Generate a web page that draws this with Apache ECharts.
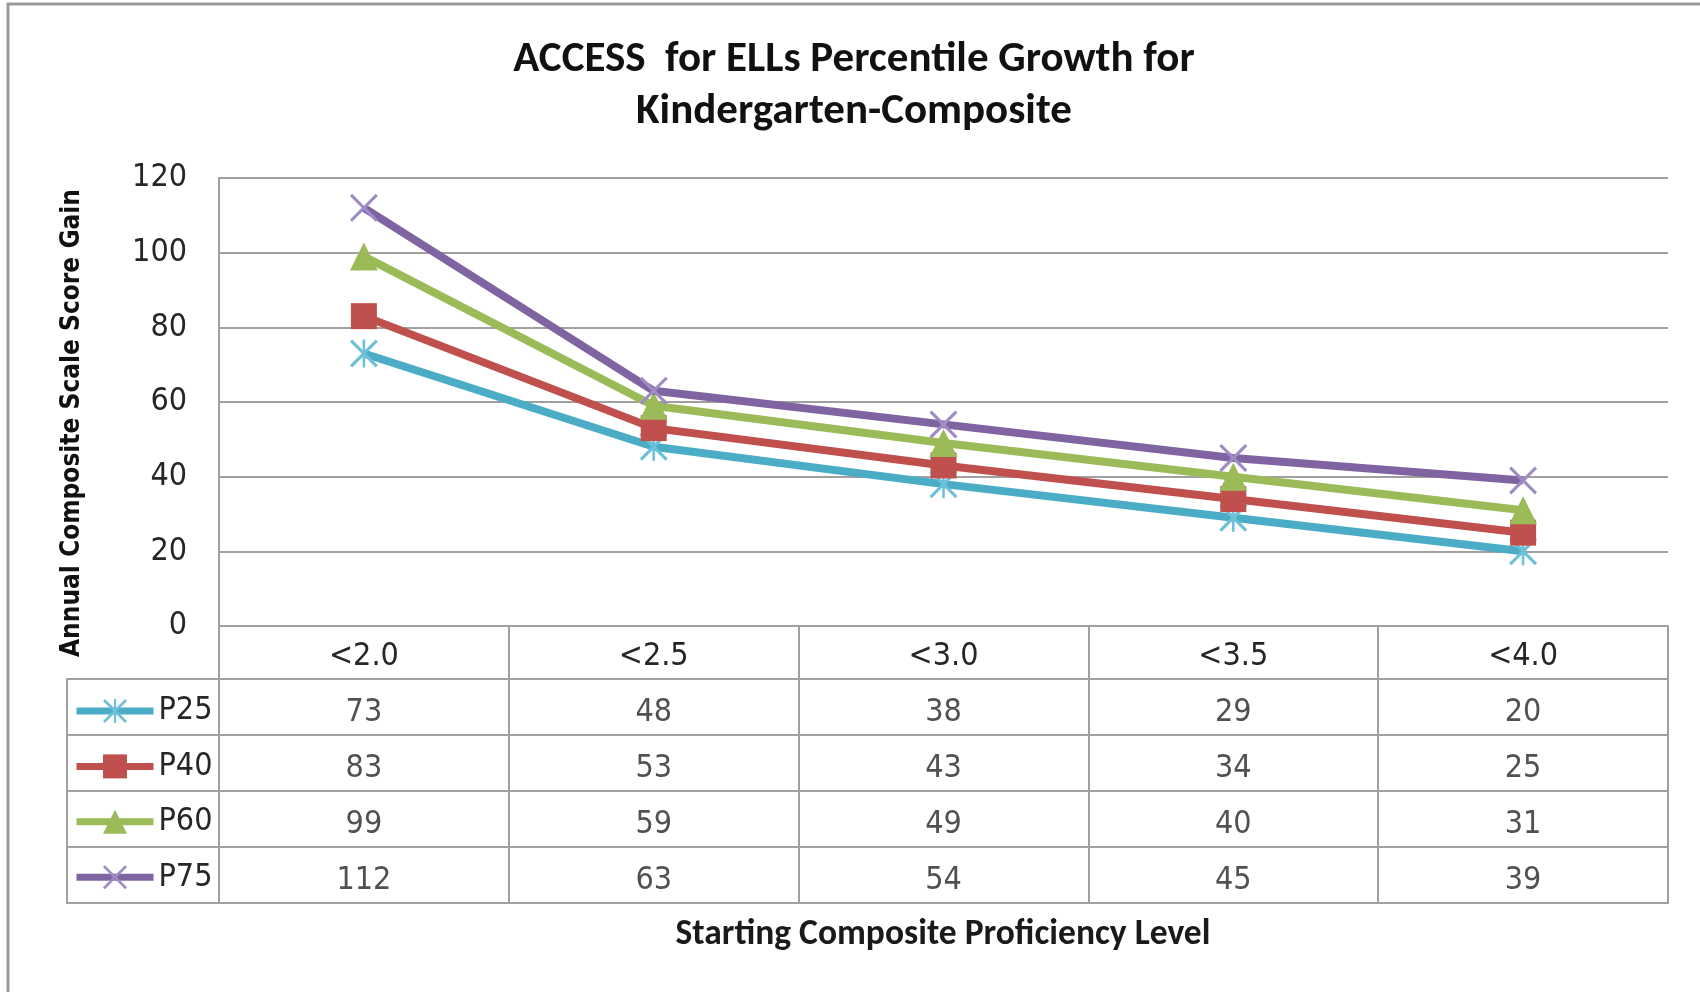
<!DOCTYPE html>
<html>
<head>
<meta charset="utf-8">
<script src="https://cdn.jsdelivr.net/npm/echarts@6/dist/echarts.min.js"></script>
<style>
html,body{margin:0;padding:0;background:#fff;}
#c{width:1700px;height:992px;}
</style>
</head>
<body>
<div id="c"></div>
<script>
const categories = ['<2.0', '<2.5', '<3.0', '<3.5', '<4.0'];
const seriesNames = ['P25', 'P40', 'P60', 'P75'];
const p25 = [73, 48, 38, 29, 20];
const p40 = [83, 53, 43, 34, 25];
const p60 = [99, 59, 49, 40, 31];
const p75 = [112, 63, 54, 45, 39];
const yMin = 0, yMax = 120, yStep = 20;
const titleText = 'ACCESS  for ELLs Percentile Growth for\nKindergarten-Composite';
const xName = 'Starting Composite Proficiency Level';
const yName = 'Annual Composite Scale Score Gain';

const values = [p25, p40, p60, p75];
const lineColors = ['#4BACC6', '#C0504D', '#9BBB59', '#8064A2'];
const markerColors = ['#6cc0d8', '#C0504D', '#9BBB59', '#9f8cc4'];
const X_PATH = 'path://M0,1.6L1.6,0L10,8.4L18.4,0L20,1.6L11.6,10L20,18.4L18.4,20L10,11.6L1.6,20L0,18.4L8.4,10Z';
const STAR_PATH = 'path://M0,1.6L1.6,0L10,8.4L18.4,0L20,1.6L11.6,10L20,18.4L18.4,20L10,11.6L1.6,20L0,18.4L8.4,10Z M9.1,0L10.9,0L10.9,20L9.1,20Z';
const symbols = [STAR_PATH, 'rect', 'triangle', X_PATH];
const symbolSizes = [28, 26, 28, 28];

const numFont = "'DejaVu Sans Condensed', 'DejaVu Sans', sans-serif";
const titleFont = "Carlito, 'Liberation Sans Narrow', Lato, sans-serif";
const gridGray = '#a0a0a0';

const chart = echarts.init(document.getElementById('c'));

const lineSeries = seriesNames.map((n, i) => ({
  name: n,
  type: 'line',
  xAxisIndex: 0,
  yAxisIndex: 0,
  data: values[i],
  symbol: symbols[i],
  symbolSize: symbolSizes[i],
  lineStyle: { color: lineColors[i], width: 8 },
  itemStyle: { color: markerColors[i], borderWidth: 0 },
  z: 3 + i,
  animation: false
}));

const tableData = [];
seriesNames.forEach((n, i) => {
  categories.forEach((c, j) => {
    tableData.push([c, n, values[i][j]]);
  });
});

const option = {
  animation: false,
  title: [
    {
      text: titleText,
      left: 854,
      top: 34,
      textAlign: 'center',
      padding: 0,
      textStyle: { fontFamily: titleFont, fontWeight: 'bold', fontSize: 43, lineHeight: 52, color: '#111' }
    },
    {
      text: xName,
      left: 943,
      top: 916,
      textAlign: 'center',
      padding: 0,
      textStyle: { fontFamily: titleFont, fontWeight: 'bold', fontSize: 35.5, lineHeight: 38, color: '#1a1a1a' }
    }
  ],
  legend: {
    data: seriesNames,
    orient: 'vertical',
    left: 73,
    top: 695,
    itemWidth: 77,
    itemHeight: 30,
    itemGap: 23.4,
    padding: 0,
    selectedMode: false,
    lineStyle: { width: 7 },
    textStyle: { fontFamily: numFont, fontSize: 32, lineHeight: 30, color: '#262626' }
  },
  grid: [
    { left: 219, right: 32, top: 178, bottom: 366 },
    { left: 219, right: 32, top: 679, bottom: 89, show: true, borderColor: gridGray, borderWidth: 2 },
    { left: 67, width: 152, top: 679, bottom: 89, show: true, borderColor: gridGray, borderWidth: 2 }
  ],
  xAxis: [
    {
      gridIndex: 0, type: 'category', data: categories, boundaryGap: true,
      axisLine: { show: true, lineStyle: { color: gridGray, width: 2 } },
      axisTick: { show: true, interval: 0, length: 53, lineStyle: { color: gridGray, width: 2 } },
      axisLabel: { margin: 15, fontFamily: numFont, fontSize: 32, color: '#262626', interval: 0 },
      splitLine: { show: false }
    },
    {
      gridIndex: 1, type: 'category', data: categories, boundaryGap: true,
      axisLine: { show: false }, axisTick: { show: false }, axisLabel: { show: false },
      splitLine: { show: true, interval: 0, lineStyle: { color: gridGray, width: 2 } }
    },
    { gridIndex: 2, type: 'value', show: false, min: 0, max: 1 }
  ],
  yAxis: [
    {
      gridIndex: 0, type: 'value', min: yMin, max: yMax, interval: yStep,
      axisLine: { show: true, lineStyle: { color: gridGray, width: 2 } },
      axisTick: { show: false },
      axisLabel: { margin: 32, fontFamily: numFont, fontSize: 32, color: '#262626' },
      splitLine: { show: true, lineStyle: { color: gridGray, width: 2 } }
    },
    {
      gridIndex: 1, type: 'category', data: seriesNames, inverse: true,
      axisLine: { show: false }, axisTick: { show: false }, axisLabel: { show: false },
      splitLine: { show: true, interval: 0, lineStyle: { color: gridGray, width: 2 } }
    },
    {
      gridIndex: 2, type: 'category', data: seriesNames, inverse: true,
      axisLine: { show: false }, axisTick: { show: false }, axisLabel: { show: false },
      splitLine: { show: true, interval: 0, lineStyle: { color: gridGray, width: 2 } }
    }
  ],
  series: lineSeries.concat([
    {
      name: 'table',
      type: 'scatter',
      xAxisIndex: 1,
      yAxisIndex: 1,
      data: tableData,
      encode: { x: 0, y: 1 },
      symbolSize: 1,
      itemStyle: { color: 'rgba(0,0,0,0)' },
      silent: true,
      label: {
        show: true, position: 'inside', offset: [0, 6],
        formatter: p => String(p.value[2]),
        fontFamily: numFont, fontSize: 32, color: '#262626'
      }
    }
  ]),
  graphic: [
    {
      type: 'rect', silent: true, z: -10,
      shape: { x: 8, y: 4, width: 1760, height: 1060 },
      style: { fill: 'none', stroke: '#9a9a9a', lineWidth: 3 }
    },
    {
      type: 'text', silent: true,
      x: 72, y: 423, rotation: Math.PI / 2,
      style: {
        text: yName, fontFamily: numFont, fontWeight: 'bold', fontSize: 26,
        align: 'center', verticalAlign: 'middle', fill: '#111'
      }
    }
  ]
};
chart.setOption(option);
</script>
</body>
</html>
